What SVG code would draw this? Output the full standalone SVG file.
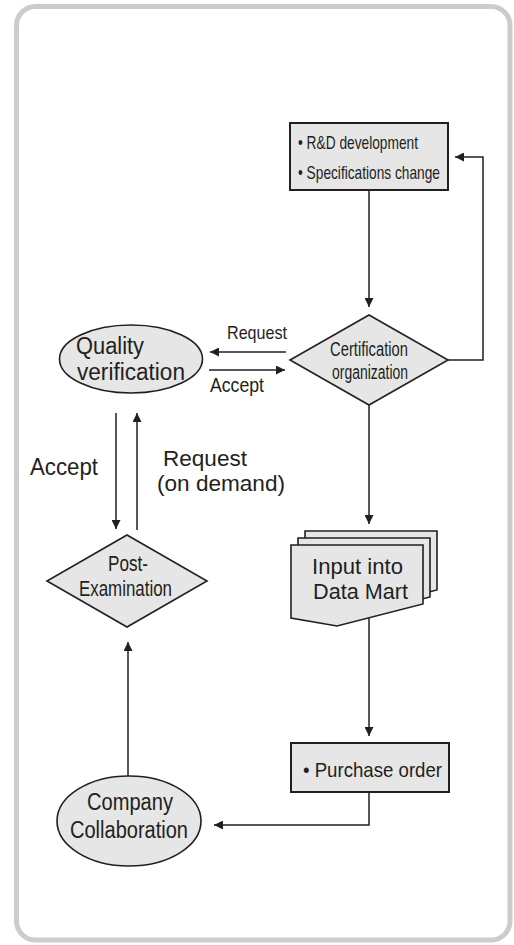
<svg xmlns="http://www.w3.org/2000/svg" width="514" height="945" viewBox="0 0 514 945">
<defs>
<style>
.frame{fill:#ffffff;stroke:#cccccc;stroke-width:5}
.shape{fill:#e6e6e6;stroke:#231f20;stroke-width:1.6}
.box{fill:#e6e6e6;stroke:#231f20;stroke-width:2}
.conn{fill:none;stroke:#231f20;stroke-width:1.5}
text{font-family:"Liberation Sans",Arial,Helvetica,sans-serif;fill:#231f20}
</style>
<marker id="ah" viewBox="0 0 10 10" refX="10" refY="5" markerWidth="10" markerHeight="9" markerUnits="userSpaceOnUse" orient="auto">
<path d="M0,0 L10,5 L0,10 Z" fill="#231f20"/>
</marker>
</defs>
<rect class="frame" x="16.5" y="6.5" width="493.5" height="933.5" rx="19" ry="19"/>

<g id="connectors">
<path class="conn" d="M369,190 V307" marker-end="url(#ah)"/>
<path class="conn" d="M448,360 H483 V157 H455" marker-end="url(#ah)"/>
<path class="conn" d="M286,352 H210" marker-end="url(#ah)"/>
<path class="conn" d="M209,370 H285" marker-end="url(#ah)"/>
<path class="conn" d="M116,413 V529" marker-end="url(#ah)"/>
<path class="conn" d="M137,530 V413" marker-end="url(#ah)"/>
<path class="conn" d="M369,405 V524" marker-end="url(#ah)"/>
<path class="conn" d="M369,618 V736" marker-end="url(#ah)"/>
<path class="conn" d="M369,792 V825 H214" marker-end="url(#ah)"/>
<path class="conn" d="M128,776 V642" marker-end="url(#ah)"/>
</g>

<g id="rd-box">
<rect class="box" x="290" y="123" width="158" height="67"/>
<text x="298" y="149" font-size="19" textLength="120" lengthAdjust="spacingAndGlyphs">• R&amp;D development</text>
<text x="298" y="179" font-size="19" textLength="142" lengthAdjust="spacingAndGlyphs">• Specifications change</text>
</g>

<g id="certification">
<polygon class="shape" points="369,315 448,360 369,405 290,360"/>
<text x="369" y="356" font-size="20" text-anchor="middle" textLength="78" lengthAdjust="spacingAndGlyphs">Certification</text>
<text x="370" y="379" font-size="20" text-anchor="middle" textLength="76" lengthAdjust="spacingAndGlyphs">organization</text>
</g>

<g id="quality">
<ellipse class="shape" cx="131" cy="359" rx="71.5" ry="34"/>
<text x="76" y="354" font-size="23" textLength="68" lengthAdjust="spacingAndGlyphs">Quality</text>
<text x="77" y="380" font-size="23" textLength="108" lengthAdjust="spacingAndGlyphs">verification</text>
</g>

<g id="labels">
<text x="227" y="339" font-size="19" textLength="60" lengthAdjust="spacingAndGlyphs">Request</text>
<text x="210" y="392" font-size="20" textLength="54" lengthAdjust="spacingAndGlyphs">Accept</text>
<text x="30" y="475" font-size="23" textLength="68" lengthAdjust="spacingAndGlyphs">Accept</text>
<text x="163" y="466" font-size="22" textLength="84" lengthAdjust="spacingAndGlyphs">Request</text>
<text x="157" y="491" font-size="22" textLength="128" lengthAdjust="spacingAndGlyphs">(on demand)</text>
</g>

<g id="post-examination">
<polygon class="shape" points="127,535 207,581 127,627 47,581"/>
<text x="128" y="571" font-size="22" text-anchor="middle" textLength="40" lengthAdjust="spacingAndGlyphs">Post-</text>
<text x="125.5" y="596" font-size="22" text-anchor="middle" textLength="93" lengthAdjust="spacingAndGlyphs">Examination</text>
</g>

<g id="data-mart">
<path class="shape" d="M305,531 H437 V590 L351,612 L305,604 Z"/>
<path class="shape" d="M298,538 H430 V597 L344,619 L298,611 Z"/>
<path class="shape" d="M291,545 H423 V604 L337,626 L291,618 Z"/>
<text x="312" y="574" font-size="22" textLength="91" lengthAdjust="spacingAndGlyphs">Input into</text>
<text x="313" y="599" font-size="22" textLength="95" lengthAdjust="spacingAndGlyphs">Data Mart</text>
</g>

<g id="purchase-order">
<rect class="box" x="291" y="743" width="158" height="49"/>
<text x="303" y="777" font-size="21" textLength="139" lengthAdjust="spacingAndGlyphs">• Purchase order</text>
</g>

<g id="company">
<ellipse class="shape" cx="129" cy="821" rx="72" ry="45"/>
<text x="130" y="810" font-size="23" text-anchor="middle" textLength="86" lengthAdjust="spacingAndGlyphs">Company</text>
<text x="129" y="838" font-size="23" text-anchor="middle" textLength="118" lengthAdjust="spacingAndGlyphs">Collaboration</text>
</g>
</svg>
